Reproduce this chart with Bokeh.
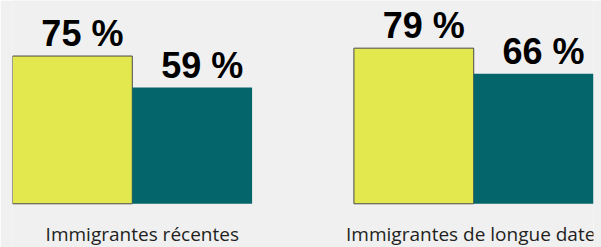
from bokeh.plotting import figure
from bokeh.models import ColumnDataSource, FactorRange, Range1d
from bokeh.core.properties import value
from bokeh.embed import file_html
from bokeh.resources import INLINE

categories = ["Immigrantes récentes", "Immigrantes de longue date"]
series_names = ["Série 1", "Série 2"]
series1 = [75, 79]
series2 = [59, 66]
colors = ["#e3e84f", "#04656a"]

x1 = [(c, series_names[0]) for c in categories]
x2 = [(c, series_names[1]) for c in categories]
factors = [(c, s) for c in categories for s in series_names]

p = figure(width=601, height=247, output_backend="svg", toolbar_location=None,
           x_range=FactorRange(*factors, range_padding=0, group_padding=0.85),
           y_range=Range1d(-22.2, 103.2),
           min_border_left=12, min_border_right=8, min_border_top=0, min_border_bottom=0,
           background_fill_color="#f0f0f0", border_fill_color="#f0f0f0",
           outline_line_color=None)
p.axis.visible = False
p.grid.visible = False

s1 = ColumnDataSource(dict(x=x1, top=series1, lab=[f"{v} %" for v in series1]))
s2 = ColumnDataSource(dict(x=x2, top=series2, lab=[f"{v} %" for v in series2]))

p.vbar(x="x", top="top", bottom=0, width=1.0, source=s1, fill_color=colors[0],
       line_color="#4a4a4a", line_width=1)
p.vbar(x="x", top="top", bottom=0, width=1.0, source=s2, fill_color=colors[1],
       line_color=None)

for src in (s1, s2):
    p.text(x="x", y="top", text="lab", source=src, text_align="center",
           text_baseline="alphabetic", x_offset=10, y_offset=-22.3,
           text_font=value("Liberation Sans"), text_font_style="bold",
           text_font_size="36px", text_color="#000000")

cs = ColumnDataSource(dict(x=categories, y=[0, 0], lab=categories, xo=[10, -3]))
p.text(x="x", y="y", text="lab", source=cs, text_align="center",
       text_baseline="alphabetic", x_offset="xo", y_offset=29.8,
       text_font=value("Open Sans"), text_font_size="19px", text_color="#231f20")

open("out.html", "w").write(file_html(p, INLINE))
